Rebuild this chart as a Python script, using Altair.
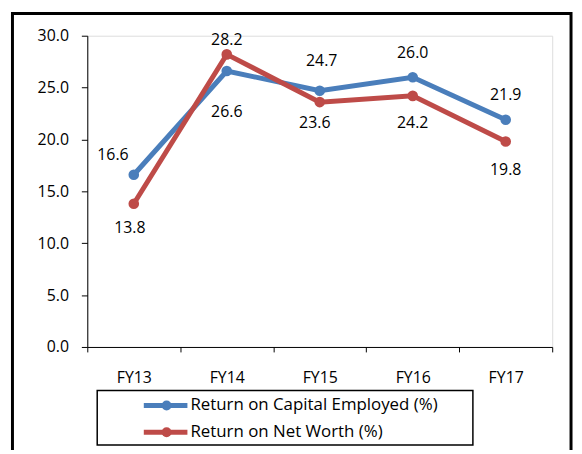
import altair as alt
import pandas as pd

categories = ["FY13", "FY14", "FY15", "FY16", "FY17"]
series_names = ["Return on Capital Employed (%)", "Return on Net Worth (%)"]
roce = [16.6, 26.6, 24.7, 26.0, 21.9]
ronw = [13.8, 28.2, 23.6, 24.2, 19.8]
colors = ["#4A7EBB", "#BE4B48"]
y_ticks = [0, 5, 10, 15, 20, 25, 30]

# label offsets (pixels) relative to each point
roce_label_offsets = [(-21, -20), (0, 41), (2, -30), (0, -24), (0, -25)]
ronw_label_offsets = [(-4, 24), (0, -14), (-5, 21), (0, 27), (0, 29)]

rows = []
for s, vals in zip(series_names, [roce, ronw]):
    for c, v in zip(categories, vals):
        rows.append({"cat": c, "series": s, "value": v})
df = pd.DataFrame(rows)

FONT = "Open Sans"

color_scale = alt.Scale(domain=series_names, range=colors)

x_enc = alt.X(
    "cat:N",
    sort=categories,
    scale=alt.Scale(domain=categories, paddingInner=0, paddingOuter=0),
    axis=alt.Axis(
        title=None, labelAngle=0, tickBand="extent", tickSize=5, labelPadding=18,
        labelFont=FONT, labelFontSize=16, labelColor="black",
        domainColor="black", tickColor="black", domainWidth=1, tickWidth=1, grid=False,
    ),
)
y_enc = alt.Y(
    "value:Q",
    scale=alt.Scale(domain=[0, 30], nice=False),
    axis=alt.Axis(
        title=None, values=y_ticks, format=".1f", tickSize=6, labelPadding=13,
        labelFont=FONT, labelFontSize=16, labelColor="black",
        domainColor="black", tickColor="black", domainWidth=1, tickWidth=1, grid=False,
    ),
)
color_enc = alt.Color("series:N", scale=color_scale, legend=None)

base = alt.Chart(df).encode(x=x_enc, y=y_enc, color=color_enc)

main_layers = []
for s in series_names:
    f = base.transform_filter(alt.datum.series == s)
    main_layers.append(f.mark_line(strokeWidth=5))
    main_layers.append(f.mark_circle(size=115, opacity=1))

for s, offs in zip(series_names, [roce_label_offsets, ronw_label_offsets]):
    for c, (dx, dy) in zip(categories, offs):
        main_layers.append(
            alt.Chart(df)
            .transform_filter((alt.datum.series == s) & (alt.datum.cat == c))
            .mark_text(dx=dx, dy=dy, font=FONT, fontSize=16, color="black")
            .encode(x=x_enc, y=y_enc, text=alt.Text("value:Q", format=".1f"))
        )

main = alt.layer(*main_layers)

# manual legend
leg_df = pd.DataFrame({"series": series_names})
leg_y = alt.Y("series:N", scale=alt.Scale(type="point", domain=series_names, range=[373, 400], padding=0), axis=None)
leg_base = alt.Chart(leg_df).encode(y=leg_y, color=color_enc)
leg_line = leg_base.mark_rule(strokeWidth=5).encode(x=alt.value(57), x2=alt.value(101))
leg_pt = leg_base.mark_circle(size=100, opacity=1).encode(x=alt.value(80))
leg_text = alt.Chart(leg_df).mark_text(align="left", baseline="middle", font=FONT, fontSize=17, color="black").encode(
    x=alt.value(104), y=leg_y, text="series:N"
)
legend = alt.layer(leg_line, leg_pt, leg_text)

one = pd.DataFrame({"a": [0]})
leg_box = alt.Chart(one).mark_rect(filled=False, stroke="black", strokeWidth=1.5).encode(
    x=alt.value(10), x2=alt.value(389), y=alt.value(358), y2=alt.value(413)
)
frame = alt.Chart(one).mark_rect(filled=False, stroke="black", strokeWidth=3).encode(
    x=alt.value(-75.5), x2=alt.value(488), y=alt.value(-22.5), y2=alt.value(440)
)

chart = (
    alt.layer(main, legend, leg_box, frame)
    .resolve_scale(y="independent")
    .properties(
        width=469, height=314,
        autosize=alt.AutoSizeParams(type="none"),
        padding={"left": 80, "top": 26, "right": 22, "bottom": 102},
    )
    .configure_view(stroke="transparent")
    .configure(background="white")
)

chart.save("out.html", embed_options={"renderer": "svg", "actions": False})
